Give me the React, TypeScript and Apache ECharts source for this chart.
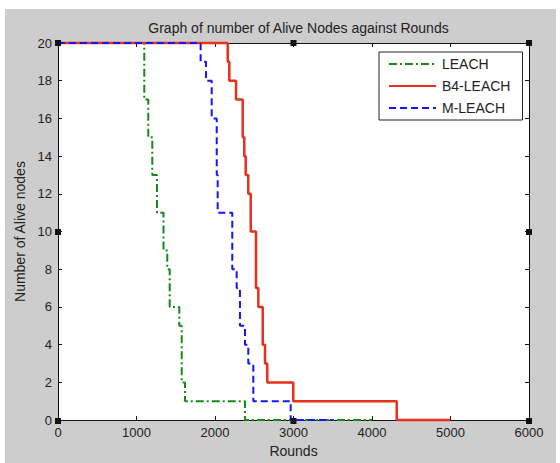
import React, { useEffect, useRef } from "react";
import * as echarts from "echarts";

const xTicks = [0, 1000, 2000, 3000, 4000, 5000, 6000];
const yTicks = [0, 2, 4, 6, 8, 10, 12, 14, 16, 18, 20];

const leachRounds = [0, 1099, 1150, 1201, 1261, 1344, 1392, 1423, 1545, 1576, 1618, 2382, 4000];
const leachAlive = [20, 17, 15, 13, 11, 9, 8, 6, 5, 2, 1, 0, 0];

const b4Rounds = [0, 2162, 2182, 2268, 2353, 2373, 2391, 2424, 2455, 2522, 2552, 2608, 2637, 2666, 2997, 4315, 5000];
const b4Alive = [20, 19, 18, 17, 15, 14, 13, 12, 10, 7, 6, 4, 3, 2, 1, 0, 0];

const mRounds = [0, 1817, 1885, 1958, 2022, 2034, 2220, 2276, 2318, 2382, 2424, 2488, 2964, 3500];
const mAlive = [20, 19, 18, 16, 13, 11, 8, 7, 5, 4, 3, 1, 0, 0];

const pairs = (xs: number[], ys: number[]) => xs.map((x, i) => [x, ys[i]]);

export default function App() {
  const ref = useRef<HTMLDivElement>(null);
  useEffect(() => {
    if (!ref.current) return;
    const chart = echarts.init(ref.current, null, { renderer: "svg" });
    const font = "'Liberation Sans', Arial, Helvetica, sans-serif";
    const L = 58, T = 43, R = 529, B = 421;
    const handles = [
      [L, T], [(L + R) / 2, T], [R, T],
      [L, (T + B) / 2], [R, (T + B) / 2],
      [L, B], [(L + R) / 2, B], [R, B],
    ];
    const axisCommon = {
      type: "value" as const,
      axisLine: { show: true, onZero: false, lineStyle: { color: "#111", width: 1 } },
      axisTick: { show: true, inside: true, length: 4, lineStyle: { color: "#111" } },
      splitLine: { show: false },
    };
    chart.setOption({
      animation: false,
      backgroundColor: "#ffffff",
      textStyle: { fontFamily: font },
      title: {
        text: "Graph of number of Alive Nodes against Rounds",
        left: (L + R) / 2,
        textAlign: "center",
        top: 16,
        textStyle: { fontSize: 14, fontWeight: "normal", color: "#222", fontFamily: font },
      },
      grid: { left: L, top: T, width: R - L, height: B - T, show: true, backgroundColor: "#ffffff", borderWidth: 0 },
      legend: {
        orient: "vertical",
        left: 379,
        top: 52,
        width: 143,
        padding: [5, 12, 5, 9],
        itemWidth: 47,
        itemHeight: 14,
        itemGap: 8,
        itemStyle: { opacity: 0 },
        backgroundColor: "#ffffff",
        borderColor: "#222",
        borderWidth: 1,
        borderRadius: 0,
        textStyle: { fontSize: 14, color: "#222", fontFamily: font, padding: [0, 0, 0, 1] },
        data: ["LEACH", "B4-LEACH", "M-LEACH"],
      },
      xAxis: [
        {
          ...axisCommon,
          position: "bottom",
          min: xTicks[0],
          max: xTicks[xTicks.length - 1],
          interval: 1000,
          name: "Rounds",
          nameLocation: "middle",
          nameGap: 23,
          nameTextStyle: { fontSize: 14, color: "#222", fontFamily: font },
          axisLabel: { fontSize: 13, color: "#222", margin: 6, fontFamily: font, formatter: (v: number) => String(v) },
        },
        {
          ...axisCommon,
          position: "top",
          min: xTicks[0],
          max: xTicks[xTicks.length - 1],
          interval: 1000,
          axisLabel: { show: false },
        },
      ],
      yAxis: [
        {
          ...axisCommon,
          position: "left",
          min: yTicks[0],
          max: yTicks[yTicks.length - 1],
          interval: 2,
          name: "Number of Alive nodes",
          nameLocation: "middle",
          nameGap: 29,
          nameTextStyle: { fontSize: 14, color: "#222", fontFamily: font },
          axisLabel: { fontSize: 13, color: "#222", margin: 6, fontFamily: font, formatter: (v: number) => String(v) },
        },
        {
          ...axisCommon,
          position: "right",
          min: yTicks[0],
          max: yTicks[yTicks.length - 1],
          interval: 2,
          axisLabel: { show: false },
        },
      ],
      series: [
        {
          name: "LEACH",
          type: "line",
          step: "end",
          symbol: "none",
          clip: false,
          color: "#168a16",
          lineStyle: { color: "#168a16", width: 2, type: [8, 3, 2, 3] },
          data: pairs(leachRounds, leachAlive),
        },
        {
          name: "B4-LEACH",
          type: "line",
          step: "end",
          symbol: "none",
          clip: false,
          color: "#e8311c",
          lineStyle: { color: "#e8311c", width: 2.5, type: "solid" },
          data: pairs(b4Rounds, b4Alive),
        },
        {
          name: "M-LEACH",
          type: "line",
          step: "end",
          symbol: "none",
          clip: false,
          color: "#1515f5",
          lineStyle: { color: "#1515f5", width: 2, type: [7, 4] },
          data: pairs(mRounds, mAlive),
        },
      ],
      graphic: [
        {
          type: "rect",
          z: -10,
          silent: true,
          shape: { x: 5, y: 9, width: 551, height: 454 },
          style: { fill: "#cdcdcd" },
        },
        ...handles.map(([hx, hy]) => ({
          type: "rect",
          z: 100,
          silent: true,
          shape: { x: hx - 3, y: hy - 3, width: 6, height: 6 },
          style: { fill: "#111" },
        })),
      ],
    });
    return () => chart.dispose();
  }, []);
  return (
    <div
      ref={ref}
      style={{ position: "absolute", left: 0, top: 0, width: 560, height: 463 }}
    />
  );
}
